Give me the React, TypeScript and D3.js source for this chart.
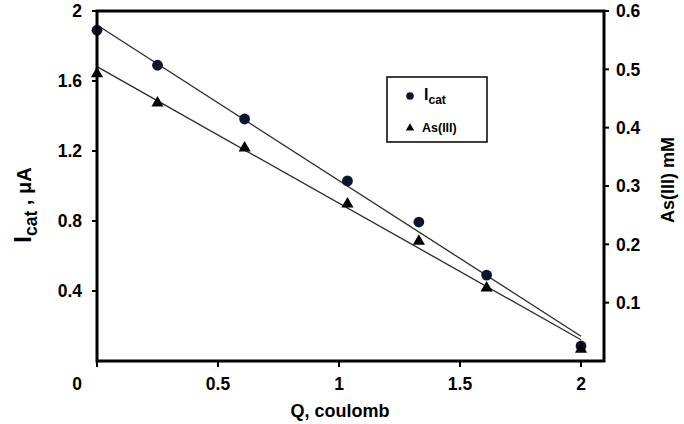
import React from "react";
import * as d3 from "d3";

const charge = [0, 0.25, 0.61, 1.035, 1.33, 1.61, 2];
const icatValues = [1.89, 1.69, 1.383, 1.029, 0.794, 0.491, 0.086];
const asValues = [0.494, 0.444, 0.367, 0.271, 0.207, 0.127, 0.022];
const leftTicks = [0.4, 0.8, 1.2, 1.6, 2];
const rightTicks = [0.1, 0.2, 0.3, 0.4, 0.5, 0.6];
const xTicks = [0.5, 1, 1.5, 2];

const W = 684;
const H = 424;
const L = 97, R = 604, T = 11, B = 361;

function regression(xs: number[], ys: number[]) {
  const mx = d3.mean(xs)!;
  const my = d3.mean(ys)!;
  let sxy = 0, sxx = 0;
  xs.forEach((x, i) => {
    sxy += (x - mx) * (ys[i] - my);
    sxx += (x - mx) * (x - mx);
  });
  const b = sxy / sxx;
  const a = my - b * mx;
  return (x: number) => a + b * x;
}

export default function App() {
  const x = d3.scaleLinear().domain([0, 2.095]).range([L, R]);
  const yL = d3.scaleLinear().domain([0, 2]).range([B, T]);
  const yR = d3.scaleLinear().domain([0, 0.6]).range([B, T]);

  const fitI = regression(charge, icatValues);
  const fitA = regression(charge, asValues);
  const ext = d3.extent(charge) as [number, number];
  const lineI = d3.line<number>().x((q) => x(q)).y((q) => yL(fitI(q)));
  const lineA = d3.line<number>().x((q) => x(q)).y((q) => yR(fitA(q)));

  const tri = d3.symbol(d3.symbolTriangle, 64)()!;
  const triSmall = d3.symbol(d3.symbolTriangle, 30)()!;
  const font = "Liberation Sans, Arial, sans-serif";

  return (
    <svg
      width={W}
      height={H}
      style={{ position: "absolute", left: 0, top: 0, background: "#fff" }}
      fontFamily={font}
      fontWeight="bold"
    >
      <rect x={0} y={0} width={W} height={H} fill="#fff" />
      {/* fit lines */}
      <path d={lineI(ext)!} stroke="#2a2a2a" strokeWidth={1.3} fill="none" />
      <path d={lineA(ext)!} stroke="#2a2a2a" strokeWidth={1.3} fill="none" />
      {/* points */}
      {charge.map((q, i) => (
        <circle key={"c" + i} cx={x(q)} cy={yL(icatValues[i])} r={5.4} fill="#0c1530" />
      ))}
      {charge.map((q, i) => (
        <path
          key={"t" + i}
          d={tri}
          transform={`translate(${x(q)},${yR(asValues[i]) + 1})`}
          fill="#000"
        />
      ))}
      {/* frame */}
      <rect x={L} y={T} width={R - L} height={B - T} fill="none" stroke="#000" strokeWidth={3} />
      {/* left ticks */}
      {leftTicks.map((v) => (
        <g key={"l" + v}>
          <line x1={L - 5} x2={L} y1={yL(v)} y2={yL(v)} stroke="#000" strokeWidth={2} />
          <text x={82} y={yL(v)} dy="0.36em" textAnchor="end" fontSize={17.5}>
            {String(v)}
          </text>
        </g>
      ))}
      {/* right ticks */}
      {rightTicks.map((v) => (
        <g key={"r" + v}>
          <line x1={R} x2={R + 5} y1={yR(v)} y2={yR(v)} stroke="#000" strokeWidth={2} />
          <text x={616} y={yR(v)} dy="0.36em" textAnchor="start" fontSize={17.5}>
            {String(v)}
          </text>
        </g>
      ))}
      {/* bottom ticks */}
      {[0, ...xTicks].map((v) => (
        <line key={"bt" + v} x1={x(v)} x2={x(v)} y1={B} y2={B + 6} stroke="#000" strokeWidth={2} />
      ))}
      {xTicks.map((v) => (
        <text key={"b" + v} x={x(v)} y={390} textAnchor="middle" fontSize={17.5}>
          {String(v)}
        </text>
      ))}
      <text x={77} y={390} textAnchor="middle" fontSize={17.5}>0</text>
      {/* axis titles */}
      <text x={340} y={417} textAnchor="middle" fontSize={18}>Q, coulomb</text>
      <text transform="translate(31,205) rotate(-90)" textAnchor="middle" fontSize={24}>
        I<tspan fontSize={17.5} dy={6}>cat</tspan>
        <tspan dy={-6} fontSize={20}> , μA</tspan>
      </text>
      <text transform="translate(674,180) rotate(-90)" textAnchor="middle" fontSize={18}>
        As(III) mM
      </text>
      {/* legend */}
      <rect x={387} y={77} width={100} height={65} fill="#fff" stroke="#000" strokeWidth={1.5} />
      <circle cx={410} cy={96} r={3.8} fill="#0c1530" />
      <text x={424} y={100} fontSize={16}>
        I<tspan fontSize={12} dy={4}>cat</tspan>
      </text>
      <path d={triSmall} transform="translate(410,128)" fill="#000" />
      <text x={422} y={132} fontSize={12.5}>As(III)</text>
    </svg>
  );
}
